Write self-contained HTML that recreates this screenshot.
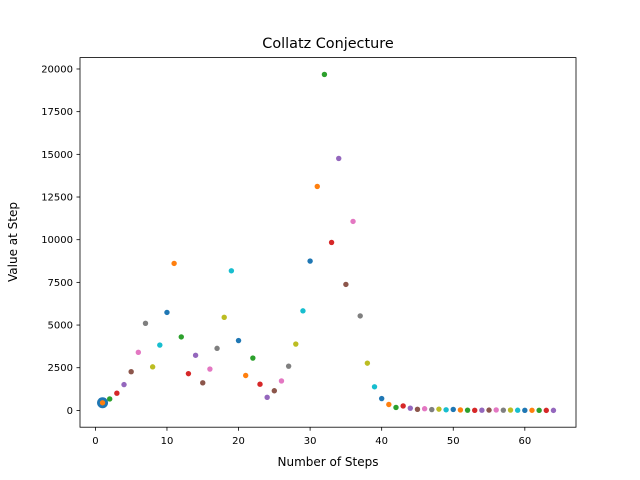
<!DOCTYPE html>
<html><head><meta charset="utf-8"><style>
body{margin:0;background:#fff;}
svg{display:block;font-family:"DejaVu Sans","Liberation Sans",sans-serif;}
</style></head><body>
<svg id="chart" width="640" height="480">
<rect width="640" height="480" fill="#fff"/>
<text x="328" y="48" font-size="14.4" text-anchor="middle">Collatz Conjecture</text>
<g id="plot"></g>
<rect x="80" y="57.6" width="496" height="369.6" fill="none" stroke="#000" stroke-width="0.8"/>
<text x="328" y="466" font-size="12" text-anchor="middle">Number of Steps</text>
<text transform="translate(17,242) rotate(-90)" font-size="12" text-anchor="middle">Value at Step</text>
</svg>
<script>
const startValue = 447;
const values = [1,2,3,4,5,6,7,8,9,10,11,12,13,14,15,16,17,18,19,20,21,22,23,24,25,26,27,28,29,30,31,32,33,34,35,36,37,38,39,40,41,42,43,44,45,46,47,48,49,50,51,52,53,54,55,56,57,58,59,60,61,62,63,64];
const seqValues = [447,671,1007,1511,2267,3401,5102,2551,3827,5741,8612,4306,2153,3230,1615,2423,3635,5453,8180,4090,2045,3068,1534,767,1151,1727,2591,3887,5831,8747,13121,19682,9841,14762,7381,11072,5536,2768,1384,692,346,173,260,130,65,98,49,74,37,56,28,14,7,11,17,26,13,20,10,5,8,4,2,1];
const xTicks = [0,10,20,30,40,50,60];
const yTicks = [0,2500,5000,7500,10000,12500,15000,17500,20000];
const colors = ['#1f77b4','#ff7f0e','#2ca02c','#d62728','#9467bd','#8c564b','#e377c2','#7f7f7f','#bcbd22','#17becf'];
const ns='http://www.w3.org/2000/svg';
const L=80,R=576,T=57.6,B=427.2;
const xmin=-2.15,xmax=67.15,ymin=-984.05,ymax=20667.05;
const xs=v=>L+(v-xmin)/(xmax-xmin)*(R-L);
const ys=v=>B-(v-ymin)/(ymax-ymin)*(B-T);
const svg=document.getElementById('chart');
const plot=document.getElementById('plot');
function mk(tag,attrs,parent){const e=document.createElementNS(ns,tag);for(const k in attrs)e.setAttribute(k,attrs[k]);(parent||svg).appendChild(e);return e;}
xTicks.forEach(t=>{
  const x=xs(t);
  const l=mk('line',{x1:x,x2:x,y1:B,y2:B+3.5,stroke:'#000','stroke-width':0.8});
  
  
  const tx=mk('text',{x:x,y:B+17,'font-size':10,'text-anchor':'middle'});
  tx.textContent=t;
  
  
});
yTicks.forEach(t=>{
  const y=ys(t);
  const l=mk('line',{x1:L-3.5,x2:L,y1:y,y2:y,stroke:'#000','stroke-width':0.8});
  
  
  const tx=mk('text',{x:L-7,y:y+3.5,'font-size':10,'text-anchor':'end'});
  tx.textContent=t;
  
  
});
const big=mk('circle',{cx:xs(1),cy:ys(startValue),r:5.5,fill:colors[0]},plot);


values.forEach((s,i)=>{
  const c=mk('circle',{cx:xs(s),cy:ys(seqValues[i]),r:2.7,fill:colors[(i+1)%10]},plot);
  
  
});
</script>
</body></html>
